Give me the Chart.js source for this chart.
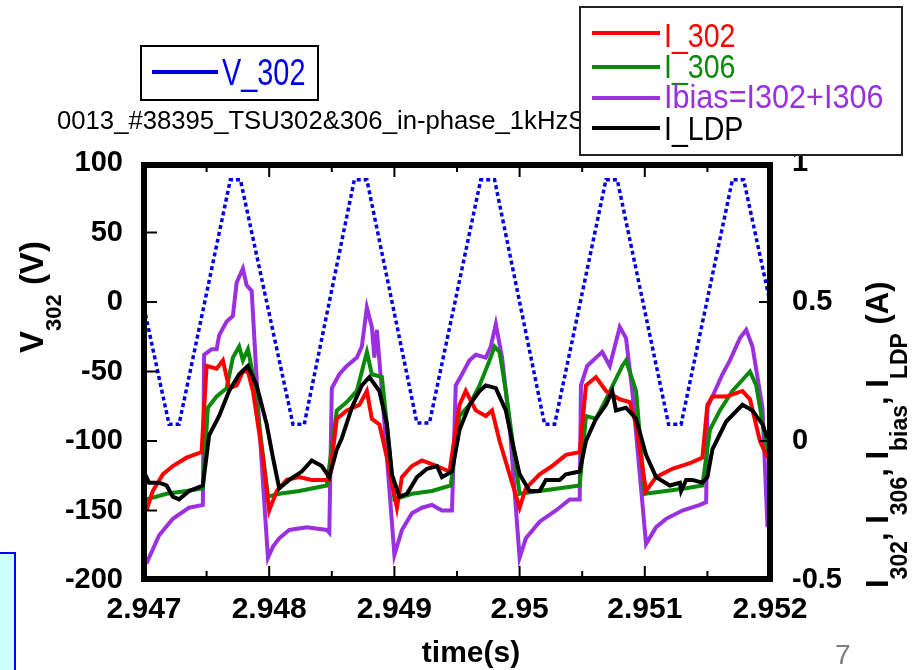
<!DOCTYPE html>
<html>
<head>
<meta charset="utf-8">
<script src="https://cdn.jsdelivr.net/npm/chart.js@4.4.0/dist/chart.umd.min.js"></script>
<style>
  html, body { margin: 0; padding: 0; background: #fff; }
</style>
</head>
<body>
<canvas id="c" width="920" height="670"></canvas>
<script>
// x ticks / labels
var xTicks = [2.947, 2.948, 2.949, 2.950, 2.951, 2.952];
var xTickLabels = ['2.947', '2.948', '2.949', '2.95', '2.951', '2.952'];
var vTicks = [-200, -150, -100, -50, 0, 50, 100];
var vTickLabels = ['-200', '-150', '-100', '-50', '0', '50', '100'];
var iTicks = [-0.5, 0, 0.5, 1];
var iTickLabels = ['-0.5', '0', '0.5', '1'];

// V_302 (V)
var vTime = [2.947, 2.9472, 2.94728, 2.94769, 2.94777, 2.94819, 2.94828, 2.94868, 2.94878, 2.94918, 2.94928,
  2.94969, 2.9498, 2.9502, 2.95028, 2.95069, 2.95078, 2.95119, 2.95129, 2.9517, 2.95179, 2.952];
var vValue = [-4, -88, -88, 88, 88, -88, -88, 88, 88, -87, -87, 88, 88, -88, -88, 88, 88, -88, -88, 88, 88, 0];

// I_302 (A)
var i302Time = [2.94702, 2.94707, 2.94715, 2.94723, 2.94734, 2.94746, 2.9475, 2.94758, 2.94763, 2.94768,
  2.94774, 2.94779, 2.94783, 2.94787, 2.94795, 2.948, 2.94806, 2.94814, 2.94824, 2.94834,
  2.94848, 2.94854, 2.94862, 2.94872, 2.94878, 2.94882, 2.94888, 2.94894, 2.94902, 2.94906,
  2.94914, 2.94922, 2.94934, 2.94944, 2.94952, 2.94957, 2.94965, 2.94973, 2.94978, 2.94984,
  2.94992, 2.95, 2.95005, 2.95016, 2.95026, 2.95037, 2.95048, 2.95053, 2.95061, 2.95069,
  2.9508, 2.95088, 2.95093, 2.95101, 2.95109, 2.95122, 2.95136, 2.95146, 2.9515, 2.95154,
  2.95165, 2.95178, 2.95184, 2.95192, 2.95198];
var i302 = [-0.25, -0.18, -0.12, -0.09, -0.06, -0.04, 0.27, 0.26, 0.29, 0.19,
  0.20, 0.25, 0.25, 0.18, -0.06, -0.25, -0.18, -0.14, -0.13, -0.14,
  -0.14, 0.08, 0.11, 0.13, 0.18, 0.08, 0.06, -0.06, -0.24, -0.13,
  -0.09, -0.07, -0.09, -0.11, 0.13, 0.18, 0.11, 0.09, 0.11, 0.00,
  -0.12, -0.24, -0.17, -0.12, -0.09, -0.05, -0.04, 0.20, 0.23, 0.18,
  0.15, 0.14, 0.06, -0.18, -0.13, -0.10, -0.08, -0.06, 0.13, 0.16,
  0.16, 0.18, 0.15, 0.00, -0.06];

// I_306 (A)
var i306Time = [2.94702, 2.94718, 2.94734, 2.94747, 2.94751, 2.94758, 2.94766, 2.94771, 2.94776, 2.94779,
  2.94783, 2.94787, 2.94792, 2.94799, 2.94808, 2.94824, 2.94846, 2.94854, 2.94862, 2.9487,
  2.94878, 2.94882, 2.9489, 2.94894, 2.949, 2.94914, 2.9493, 2.94945, 2.94952, 2.9496,
  2.94968, 2.94976, 2.9498, 2.94984, 2.94989, 2.95, 2.95016, 2.95032, 2.95048, 2.95053,
  2.95061, 2.95069, 2.95082, 2.95085, 2.95093, 2.951, 2.95117, 2.95133, 2.95146, 2.95152,
  2.9516, 2.9517, 2.95184, 2.95189, 2.95197, 2.952];
var i306 = [-0.21, -0.19, -0.18, -0.17, 0.12, 0.16, 0.19, 0.30, 0.34, 0.29,
  0.33, 0.24, 0.06, -0.20, -0.19, -0.18, -0.16, 0.11, 0.14, 0.18,
  0.32, 0.24, 0.23, 0.06, -0.21, -0.19, -0.18, -0.16, 0.09, 0.13,
  0.20, 0.29, 0.34, 0.32, 0.18, -0.19, -0.18, -0.17, -0.16, 0.09,
  0.08, 0.15, 0.27, 0.29, 0.18, -0.19, -0.18, -0.17, -0.16, 0.04,
  0.11, 0.18, 0.25, 0.20, -0.01, -0.06];

// Ibias = I302 + I306 (A)
var iBiasTime = [2.94702, 2.94712, 2.94723, 2.94736, 2.94747, 2.94748, 2.94754, 2.94758, 2.9476, 2.94766,
  2.94771, 2.94774, 2.94779, 2.94782, 2.94786, 2.94792, 2.94799, 2.94803, 2.94808, 2.94816,
  2.9483, 2.94846, 2.94848, 2.9485, 2.94856, 2.94862, 2.9487, 2.94874, 2.94878, 2.94882,
  2.94884, 2.94886, 2.9489, 2.949, 2.94906, 2.94914, 2.94922, 2.9493, 2.94938, 2.94946,
  2.94949, 2.94954, 2.9496, 2.94965, 2.94973, 2.94977, 2.94981, 2.94986, 2.94992, 2.95,
  2.95005, 2.95016, 2.95029, 2.9504, 2.95048, 2.95049, 2.95054, 2.95061, 2.95066, 2.95072,
  2.9508, 2.95085, 2.9509, 2.95096, 2.95101, 2.95109, 2.95117, 2.9513, 2.95144, 2.95149,
  2.9515, 2.95156, 2.95162, 2.95168, 2.95176, 2.95181, 2.95186, 2.95194, 2.95198];
var iBias = [-0.44, -0.34, -0.28, -0.24, -0.23, 0.31, 0.33, 0.33, 0.38, 0.43,
  0.45, 0.57, 0.62, 0.56, 0.54, 0.06, -0.42, -0.38, -0.35, -0.32,
  -0.31, -0.32, -0.33, 0.19, 0.24, 0.27, 0.30, 0.34, 0.48, 0.41,
  0.30, 0.40, 0.18, -0.41, -0.32, -0.26, -0.24, -0.23, -0.25, -0.25,
  0.20, 0.24, 0.29, 0.31, 0.30, 0.34, 0.42, 0.30, 0.06, -0.42,
  -0.35, -0.29, -0.25, -0.21, -0.21, 0.20, 0.27, 0.30, 0.32, 0.27,
  0.41, 0.37, 0.18, -0.12, -0.37, -0.31, -0.28, -0.25, -0.23, -0.22,
  0.12, 0.18, 0.24, 0.29, 0.37, 0.40, 0.34, 0.12, -0.31];

// I_LDP (A)
var iLdpTime = [2.947, 2.94704, 2.94712, 2.94718, 2.94723, 2.94728, 2.94736, 2.94747, 2.94752, 2.9476,
  2.94768, 2.94776, 2.94783, 2.9479, 2.94798, 2.94803, 2.94808, 2.94816, 2.94826, 2.94834,
  2.94842, 2.94848, 2.94854, 2.94858, 2.94866, 2.94874, 2.9488, 2.94888, 2.94894, 2.94898,
  2.94904, 2.9491, 2.94918, 2.94926, 2.94934, 2.94938, 2.94946, 2.94952, 2.9496, 2.94968,
  2.94973, 2.94981, 2.94989, 2.94994, 2.95, 2.95008, 2.95016, 2.95021, 2.95032, 2.95037,
  2.95048, 2.95053, 2.95061, 2.95069, 2.95074, 2.95077, 2.95085, 2.95093, 2.95101, 2.95109,
  2.9512, 2.95128, 2.95129, 2.95133, 2.95138, 2.95146, 2.9515, 2.95154, 2.95165, 2.95178,
  2.95186, 2.95194, 2.95198];
var iLdp = [-0.11, -0.15, -0.15, -0.16, -0.20, -0.21, -0.18, -0.16, 0.02, 0.09,
  0.18, 0.24, 0.27, 0.20, 0.06, -0.06, -0.17, -0.14, -0.11, -0.07,
  -0.09, -0.13, -0.03, 0.01, 0.12, 0.20, 0.23, 0.18, 0.06, -0.12,
  -0.20, -0.19, -0.13, -0.10, -0.09, -0.13, -0.11, 0.04, 0.13, 0.18,
  0.20, 0.19, 0.11, 0.00, -0.12, -0.18, -0.18, -0.14, -0.14, -0.12,
  -0.11, 0.00, 0.08, 0.13, 0.18, 0.11, 0.12, 0.08, -0.05, -0.13,
  -0.16, -0.15, -0.18, -0.14, -0.14, -0.15, -0.13, -0.03, 0.07, 0.13,
  0.11, 0.06, 0.01];

var FONT = '"Liberation Sans", Arial, sans-serif';

function pts(t, v) {
  var out = [];
  for (var i = 0; i < t.length; i++) {
    out.push({ x: t[i], y: v[i] });
  }
  return out;
}

function line(label, t, v, color, axis, extra) {
  var ds = {
    label: label,
    data: pts(t, v),
    yAxisID: axis,
    borderColor: color,
    borderWidth: 4,
    pointRadius: 0,
    tension: 0,
    fill: false
  };
  for (var k in extra) ds[k] = extra[k];
  return ds;
}

function narrowText(ctx, text, x, y, font, color, sx) {
  ctx.save();
  ctx.font = font;
  ctx.fillStyle = color;
  ctx.textAlign = 'left';
  ctx.textBaseline = 'alphabetic';
  ctx.translate(x, y);
  ctx.scale(sx, 1);
  ctx.fillText(text, 0, 0);
  ctx.restore();
}

function rotatedRich(ctx, parts, x, y) {
  ctx.save();
  ctx.translate(x, y);
  ctx.rotate(-Math.PI / 2);
  ctx.fillStyle = '#000';
  ctx.textAlign = 'left';
  ctx.textBaseline = 'alphabetic';
  var pos = 0;
  for (var i = 0; i < parts.length; i++) {
    ctx.font = parts[i].font;
    ctx.fillText(parts[i].text, pos, parts[i].dy || 0);
    pos += ctx.measureText(parts[i].text).width;
  }
  ctx.restore();
}

var framePlugin = {
  id: 'frame',
  afterDatasetsDraw: function(chart) {
    var ctx = chart.ctx, a = chart.chartArea;
    var sx = chart.scales.x, sv = chart.scales.yV, si = chart.scales.yI;
    ctx.save();
    ctx.strokeStyle = '#000';
    ctx.lineWidth = 2;
    ctx.beginPath();
    // inward ticks
    for (var i = 1; i < vTicks.length - 1; i++) {
      var y = sv.getPixelForValue(vTicks[i]);
      ctx.moveTo(a.left, y); ctx.lineTo(a.left + 13, y);
    }
    for (var j = 1; j < iTicks.length - 1; j++) {
      var yi = si.getPixelForValue(iTicks[j]);
      ctx.moveTo(a.right, yi); ctx.lineTo(a.right - 11, yi);
    }
    for (var k = 0; k < xTicks.length; k++) {
      var x = sx.getPixelForValue(xTicks[k]);
      if (k > 0 && k < xTicks.length - 1) {
        ctx.moveTo(x, a.top); ctx.lineTo(x, a.top + 14);
        ctx.moveTo(x, a.bottom); ctx.lineTo(x, a.bottom - 14);
      }
      if (k < xTicks.length - 1) {
        var xm = sx.getPixelForValue((xTicks[k] + xTicks[k + 1]) / 2);
        ctx.moveTo(xm, a.top); ctx.lineTo(xm, a.top + 9);
        ctx.moveTo(xm, a.bottom); ctx.lineTo(xm, a.bottom - 9);
      }
    }
    ctx.stroke();
    ctx.lineWidth = 6;
    ctx.strokeRect(a.left, a.top + 2, a.right - a.left, a.bottom - a.top - 3);
    ctx.restore();
  },
  afterDraw: function(chart) {
    var ctx = chart.ctx;
    ctx.save();

    // file name line (partly hidden by legend box)
    ctx.font = '25.7px ' + FONT;
    ctx.fillStyle = '#000';
    ctx.textBaseline = 'alphabetic';
    ctx.textAlign = 'left';
    ctx.fillText('0013_#38395_TSU302&306_in-phase_1kHzSweep', 57, 129);

    // V_302 legend box
    ctx.fillStyle = '#fff';
    ctx.fillRect(141, 46, 177, 54);
    ctx.strokeStyle = '#000';
    ctx.lineWidth = 2;
    ctx.strokeRect(141, 46, 177, 54);
    ctx.fillStyle = '#0000dd';
    ctx.fillRect(152, 70, 66, 4);
    narrowText(ctx, 'V_302', 222, 85, '37px ' + FONT, '#0000e6', 0.78);

    // current legend box
    ctx.fillStyle = '#fff';
    ctx.fillRect(580, 7, 322, 148);
    ctx.strokeStyle = '#222';
    ctx.lineWidth = 2;
    ctx.strokeRect(580, 7, 322, 148);
    var leg = [
      ['I_302', '#ff0000', 33, 47, 0.84],
      ['I_306', '#0a8a0a', 67, 78, 0.84],
      ['Ibias=I302+I306', '#9a30e0', 98, 108, 0.9],
      ['I_LDP', '#000000', 128, 140, 0.84]
    ];
    for (var i = 0; i < leg.length; i++) {
      ctx.fillStyle = leg[i][1];
      ctx.fillRect(592, leg[i][2] - 2, 68, 4);
      narrowText(ctx, leg[i][0], 664, leg[i][3], '34px ' + FONT, leg[i][1], leg[i][4]);
    }

    // axis titles
    var B33 = 'bold 33px ' + FONT, B22 = 'bold 22px ' + FONT;
    rotatedRich(ctx, [
      { text: 'V', font: B33 },
      { text: '302', font: B22, dy: 18 },
      { text: ' (V)', font: B33 }
    ], 43, 353);

    var B31 = 'bold 31px ' + FONT, B23 = 'bold 23px ' + FONT;
    rotatedRich(ctx, [
      { text: 'I', font: B31 },
      { text: '302', font: B23, dy: 19 },
      { text: ', ', font: B31 },
      { text: 'I', font: B31 },
      { text: '306', font: B23, dy: 19 },
      { text: ', ', font: B31 },
      { text: 'I', font: B31 },
      { text: 'bias', font: B23, dy: 19 },
      { text: ', ', font: B31 },
      { text: 'I', font: B31 },
      { text: 'LDP', font: B23, dy: 19 },
      { text: ' (A)', font: B31 }
    ], 888, 588);

    ctx.font = 'bold 30px ' + FONT;
    ctx.fillStyle = '#000';
    ctx.textAlign = 'center';
    ctx.fillText('time(s)', 471, 662);

    // page number
    ctx.font = '28px ' + FONT;
    ctx.fillStyle = '#7f7f7f';
    ctx.textAlign = 'left';
    ctx.fillText('7', 835, 664);

    // cyan box at bottom left
    ctx.fillStyle = '#ccffff';
    ctx.fillRect(-4, 553, 19, 130);
    ctx.strokeStyle = '#0000ff';
    ctx.lineWidth = 2;
    ctx.strokeRect(-4, 553, 19, 130);

    ctx.restore();
  }
};

var tickFont = { family: FONT, weight: 'bold', size: 29 };

var chart = new Chart(document.getElementById('c'), {
  type: 'line',
  data: {
    datasets: [
      line('I_LDP', iLdpTime, iLdp, '#000000', 'yI'),
      line('I_302', i302Time, i302, '#ff0000', 'yI'),
      line('I_306', i306Time, i306, '#0a8a0a', 'yI'),
      line('Ibias=I302+I306', iBiasTime, iBias, '#9a30e0', 'yI'),
      line('V_302', vTime, vValue, '#0000e6', 'yV', { borderDash: [4, 3], borderWidth: 3.5 })
    ]
  },
  options: {
    responsive: false,
    animation: false,
    layout: { padding: { top: 163, left: 0, right: 0, bottom: 0 } },
    plugins: {
      legend: { display: false },
      tooltip: { enabled: false }
    },
    scales: {
      x: {
        type: 'linear',
        min: 2.947,
        max: 2.952,
        grid: { display: false, drawTicks: false },
        border: { display: false },
        afterBuildTicks: function(s) { s.ticks = xTicks.map(function(v) { return { value: v }; }); },
        afterFit: function(s) { s.height = 90; },
        ticks: {
          autoSkip: false,
          maxRotation: 0,
          padding: 12,
          color: '#000',
          font: { family: FONT, weight: 'bold', size: 30 },
          callback: function(v, i) { return xTickLabels[i]; }
        }
      },
      yV: {
        type: 'linear',
        position: 'left',
        min: -200,
        max: 100,
        grid: { display: false, drawTicks: false },
        border: { display: false },
        afterBuildTicks: function(s) { s.ticks = vTicks.map(function(v) { return { value: v }; }); },
        afterFit: function(s) { s.width = 144; },
        ticks: {
          autoSkip: false,
          padding: 21,
          color: '#000',
          font: tickFont,
          callback: function(v, i) { return vTickLabels[i]; }
        }
      },
      yI: {
        type: 'linear',
        position: 'right',
        min: -0.5,
        max: 1,
        grid: { display: false, drawTicks: false },
        border: { display: false },
        afterBuildTicks: function(s) { s.ticks = iTicks.map(function(v) { return { value: v }; }); },
        afterFit: function(s) { s.width = 150; },
        ticks: {
          autoSkip: false,
          padding: 22,
          color: '#000',
          font: tickFont,
          callback: function(v, i) { return iTickLabels[i]; }
        }
      }
    }
  },
  plugins: [framePlugin]
});
</script>
</body>
</html>
